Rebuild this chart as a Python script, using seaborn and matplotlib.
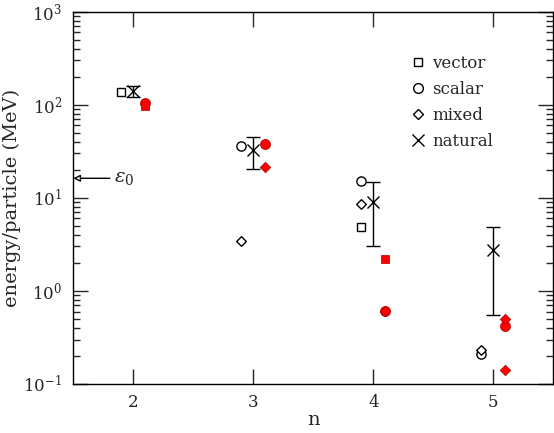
import numpy as np
import pandas as pd
import matplotlib
matplotlib.use("Agg")
import matplotlib.pyplot as plt
from matplotlib.lines import Line2D
import seaborn as sns

sns.set_theme(style="ticks")
plt.rcParams['font.family'] = ['DejaVu Serif']
plt.rcParams['mathtext.fontset'] = 'dejavuserif'

# open symbols, drawn just left of each n
open_n = [2, 4, 3, 4, 5, 3, 4, 5]
open_val = [138, 4.8, 36, 15, 0.208, 3.4, 8.55, 0.23]
open_kind = ['vector', 'vector', 'scalar', 'scalar', 'scalar', 'mixed', 'mixed', 'mixed']

# filled red symbols, drawn just right of each n
red_n = [2, 4, 2, 3, 4, 5, 3, 4, 5, 5]
red_val = [97, 2.18, 104, 37.8, 0.61, 0.417, 21.5, 0.61, 0.505, 0.14]
red_kind = ['vector', 'vector', 'scalar', 'scalar', 'scalar', 'scalar', 'mixed', 'mixed', 'mixed', 'mixed']

# natural estimate with range
nat_n = [2, 3, 4, 5]
nat_val = [140, 32.6, 9.06, 2.74]
nat_lo = [122, 20.2, 3.0, 0.548]
nat_hi = [159, 45, 14.9, 4.87]

eps0 = 16.2

markers = {'vector': 's', 'scalar': 'o', 'mixed': 'D'}
sizes = {'vector': 34, 'scalar': 44, 'mixed': 24}

open_df = pd.DataFrame({'n': np.array(open_n) - 0.1, 'E': open_val, 'kind': open_kind})
red_df = pd.DataFrame({'n': np.array(red_n) + 0.1, 'E': red_val, 'kind': red_kind})

fig = plt.figure(figsize=(5.54, 4.33), dpi=100)
ax = fig.add_axes([0.1323, 0.1132, 0.8665, 0.860])

for k in ['vector', 'scalar', 'mixed']:
    sub = open_df[open_df.kind == k]
    sns.scatterplot(data=sub, x='n', y='E', marker=markers[k], s=sizes[k],
                    facecolor='white', edgecolor='black', linewidth=1.0, ax=ax, zorder=3)

# red ones: squares go on top
for k in ['scalar', 'mixed', 'vector']:
    sub = red_df[red_df.kind == k]
    sns.scatterplot(data=sub, x='n', y='E', marker=markers[k], s=sizes[k] * 1.2,
                    color='#ff0000', edgecolor='#aa0000', linewidth=0.5, ax=ax, zorder=3)

yerr = [np.array(nat_val) - np.array(nat_lo), np.array(nat_hi) - np.array(nat_val)]
ax.errorbar(nat_n, nat_val, yerr=yerr, fmt='x', color='black', ms=8, mew=1.0,
            elinewidth=1.0, capsize=5, capthick=1.0, zorder=4)

# epsilon_0 marker on the left axis
ax.annotate('', xy=(1.5, eps0), xytext=(1.805, eps0),
            arrowprops=dict(arrowstyle='-|>', fc='white', ec='black', lw=1.0,
                            mutation_scale=10, shrinkA=0, shrinkB=0))
ax.text(1.84, eps0, r'$\epsilon_0$', fontsize=14, va='center', ha='left')

ax.set_yscale('log')
ax.set_xlim(1.5, 5.5)
ax.set_ylim(0.1, 1000)
ax.set_xticks([2, 3, 4, 5])
ax.set_xticklabels(['2', '3', '4', '5'])
ax.set_xlabel('n', fontsize=14, labelpad=0)
ax.set_ylabel('energy/particle (MeV)', fontsize=14, labelpad=2)
ax.tick_params(which='major', direction='in', length=11, width=1, top=True, right=True,
               labelsize=12, pad=8)
ax.tick_params(axis='x', which='major', pad=7)
ax.tick_params(which='minor', direction='in', length=5, width=1, top=False, right=True)
ax.tick_params(axis='x', which='minor', bottom=False, top=False)
for sp in ax.spines.values():
    sp.set_linewidth(1.0)
    sp.set_color('black')

handles = [
    Line2D([], [], ls='', marker='s', mfc='white', mec='black', ms=6),
    Line2D([], [], ls='', marker='o', mfc='white', mec='black', ms=7),
    Line2D([], [], ls='', marker='D', mfc='white', mec='black', ms=5),
    Line2D([], [], ls='', marker='x', color='black', ms=8),
]
ax.legend(handles, ['vector', 'scalar', 'mixed', 'natural'], loc='upper left',
          bbox_to_anchor=(0.665, 0.925), frameon=False, fontsize=12,
          handletextpad=0.3, labelspacing=0.55, handlelength=1.2)

fig.savefig('out.png', dpi=100)
